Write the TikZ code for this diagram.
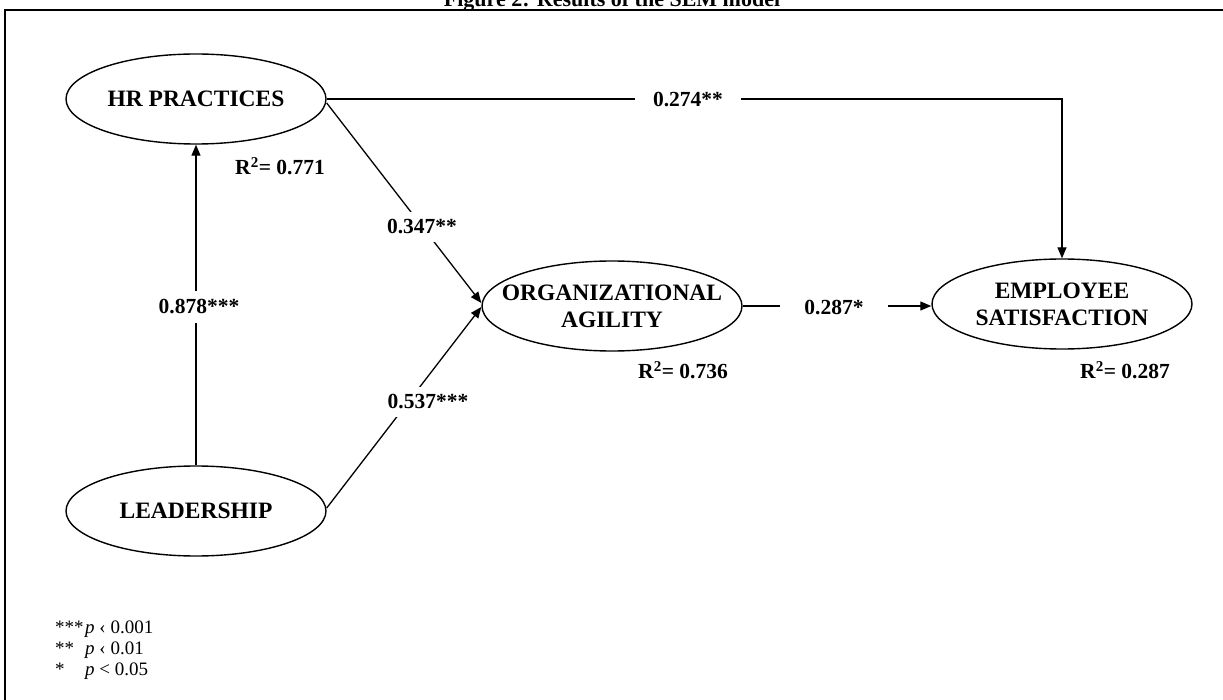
\documentclass[tikz,border=0pt]{standalone}
\usepackage{fontspec}
\setmainfont{Liberation Serif}
\usetikzlibrary{arrows.meta,shapes.geometric}
\newcommand{\zw}[1]{\makebox[0pt]{#1}}
\begin{document}
\begin{tikzpicture}[x=1pt,y=-1pt,
  latent/.style={draw,ellipse,line width=1.4pt,minimum width=260pt,minimum height=90pt,inner sep=0pt,align=center,font=\fontsize{23.5}{27}\selectfont\bfseries},
  patharrow/.style={line width=1.3pt,-{Triangle[length=11pt,width=9pt]}},
  coef/.style={fill=white,font=\fontsize{21.5}{25}\selectfont\bfseries,inner xsep=2pt,inner ysep=2pt},
  rsq/.style={font=\fontsize{21.5}{25}\selectfont\bfseries,inner sep=0pt},
  note/.style={anchor=base west,font=\fontsize{19}{22}\selectfont,inner sep=0pt},
  frame/.style={draw,line width=2.2pt}]
\useasboundingbox (0,0) rectangle (1223,700);
\clip (0,0) rectangle (1223,700);
\fill[white] (0,0) rectangle (1223,700);
\node[anchor=base,font=\fontsize{22}{25}\selectfont\bfseries] (title) at (612,7) {Figure 2: Results of the SEM model};
\coordinate (f1) at (5,10);
\coordinate (f2) at (1250,730);
\draw[frame] (f1) rectangle (f2);

\node[latent] (hr) at (196,99) {\zw{HR PRACTICES}};
\node[latent] (lead) at (196,511) {\zw{LEADERSHIP}};
\node[latent] (oa) at (612,306) {\zw{ORGANIZATIONAL}\\\zw{AGILITY}};
\node[latent] (es) at (1062,304) {\zw{EMPLOYEE}\\\zw{SATISFACTION}};

\draw[patharrow] (lead.north) -- (hr.south);
\draw[patharrow] (hr.east) -- (hr.east -| es.north) -- (es.north);
\draw[patharrow] ([yshift=-4pt]hr.east) -- ([yshift=3pt]oa.west);
\draw[patharrow] ([yshift=3pt]lead.east) -- ([yshift=-1pt]oa.west);
\draw[patharrow] (oa.east) -- (oa.east -| es.west);

\node[coef,inner ysep=9pt] (c878) at (199,307) {0.878***};
\node[coef,inner ysep=8pt] (c347) at (422,227) {0.347**};
\node[coef,inner ysep=8pt] (c537) at (428,402) {0.537***};
\node[coef,inner xsep=18pt] (c274) at (688,100) {0.274**};
\node[coef,inner xsep=24pt] (c287) at (834,308) {0.287*};

\node[rsq] (r1) at (280,166) {R\textsuperscript{2}= 0.771};
\node[rsq] (r2) at (683,370) {R\textsuperscript{2}= 0.736};
\node[rsq] (r3) at (1125,370) {R\textsuperscript{2}= 0.287};

\node[note] (n1) at (55,633) {\makebox[30pt][l]{***}\textit{p} ‹ 0.001};
\node[note] (n2) at (55,654) {\makebox[30pt][l]{**}\textit{p} ‹ 0.01};
\node[note] (n3) at (55,675) {\makebox[30pt][l]{*}\textit{p} < 0.05};
\end{tikzpicture}
\end{document}
